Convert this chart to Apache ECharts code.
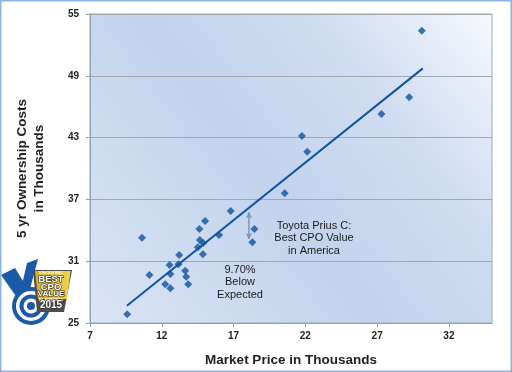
<!DOCTYPE html>
<html><head><meta charset="utf-8">
<script src="https://cdn.jsdelivr.net/npm/echarts@6/dist/echarts.min.js"></script>
<style>html,body{margin:0;padding:0;background:#fff}#c{width:512px;height:372px}</style>
</head><body><div id="c"></div>
<script>
// Market price (thousands) and 5-yr ownership cost (thousands)
const marketPrice = [9.59, 10.62, 11.14, 12.24, 12.6, 12.54, 12.6, 13.21, 13.16, 13.63, 13.7, 13.84, 14.51, 14.86, 14.62, 14.65, 14.88, 15.02, 15.99, 16.8, 18.45, 18.31, 20.56, 21.76, 22.13, 27.3, 29.23, 30.11];
const ownershipCost = [25.84, 33.28, 29.66, 28.76, 28.37, 30.63, 29.76, 31.6, 30.7, 30.08, 29.5, 28.76, 32.35, 31.67, 34.13, 33.06, 32.77, 34.9, 33.54, 35.87, 34.13, 32.83, 37.59, 43.16, 41.63, 45.29, 46.91, 53.38];
const trendX = [9.57, 30.18];
const trendY = [26.68, 49.72];
const arrowX = [18.07, 18.07];
const arrowY = [35.75, 33.15];
const xTicks = [7, 12, 17, 22, 27, 32];
const yTicks = [25, 31, 37, 43, 49, 55];

const chart = echarts.init(document.getElementById('c'), null, {renderer: 'canvas'});
const FONT = '"Liberation Sans", Arial, sans-serif';
const points = marketPrice.map((x, i) => [x, ownershipCost[i]]);
const trend = trendX.map((x, i) => [x, trendY[i]]);
const arrowData = arrowX.map((x, i) => ({value: [x, arrowY[i]], symbolRotate: i === 0 ? 0 : 180}));

const BLUE = '#1b5aa6';
const logo = [
  // checkmark
  {type: 'polygon', shape: {points: [[1, 275], [15, 268], [31, 294], [23, 306]]}, style: {fill: BLUE}},
  {type: 'polygon', shape: {points: [[27, 263], [38, 259], [26, 304], [18, 302]]}, style: {fill: BLUE}},
  // target rings
  {type: 'circle', shape: {cx: 31, cy: 306, r: 19}, style: {fill: BLUE}},
  {type: 'circle', shape: {cx: 31, cy: 306, r: 15}, style: {fill: '#ffffff'}},
  {type: 'circle', shape: {cx: 31, cy: 306, r: 11.5}, style: {fill: BLUE}},
  {type: 'circle', shape: {cx: 31, cy: 306, r: 7.5}, style: {fill: '#ffffff'}},
  {type: 'circle', shape: {cx: 31, cy: 306, r: 4}, style: {fill: BLUE}},
  // shield
  {type: 'polygon', shape: {points: [[33, 270], [72, 270], [64, 312], [37, 312]]}, style: {fill: '#4d4d4d'}},
  {type: 'polygon', shape: {points: [[35, 271], [70.5, 271], [67, 299], [38, 299]]},
    style: {fill: new echarts.graphic.LinearGradient(0, 0, 1, 0, [{offset: 0, color: '#d4a92c'}, {offset: 1, color: '#f3d24c'}])}},
  {type: 'text', x: 51, y: 273, style: {text: 'VINCENTRIC', font: 'bold 4px ' + FONT, fill: '#fff', align: 'center', verticalAlign: 'middle'}},
  {type: 'text', x: 51, y: 279.5, style: {text: 'BEST', font: 'bold 9.5px ' + FONT, fill: '#fff', stroke: '#333', lineWidth: 1.2, align: 'center', verticalAlign: 'middle'}},
  {type: 'text', x: 51, y: 287, style: {text: 'CPO', font: 'bold 9.5px ' + FONT, fill: '#fff', stroke: '#333', lineWidth: 1.2, align: 'center', verticalAlign: 'middle'}},
  {type: 'text', x: 51, y: 294, style: {text: 'VALUE', font: 'bold 8px ' + FONT, fill: '#fff', stroke: '#333', lineWidth: 1.2, align: 'center', verticalAlign: 'middle'}},
  {type: 'text', x: 51, y: 299.5, style: {text: 'IN AMERICA', font: 'bold 4px ' + FONT, fill: '#fff', align: 'center', verticalAlign: 'middle'}},
  {type: 'text', x: 51, y: 305.5, style: {text: '2015', font: 'bold 10px ' + FONT, fill: '#fff', stroke: '#333', lineWidth: 1.2, align: 'center', verticalAlign: 'middle'}}
];

const option = {
  animation: false,
  backgroundColor: '#ffffff',
  grid: {
    left: 90, right: 20, top: 14, bottom: 49,
    show: true,
    borderColor: '#9aa9c4', borderWidth: 1,
    backgroundColor: new echarts.graphic.LinearGradient(0, 1, 1, 0, [
      {offset: 0, color: '#dbe4f4'},
      {offset: 0.45, color: '#c3d3ed'},
      {offset: 0.72, color: '#d0dcf1'},
      {offset: 1, color: '#f7f9fd'}
    ])
  },
  xAxis: {
    type: 'value', min: 7, max: 35, interval: 5,
    axisLine: {show: true, lineStyle: {color: '#8f9db5', width: 1}},
    axisTick: {show: true, length: 4, lineStyle: {color: '#8f9db5'}, customValues: xTicks},
    axisLabel: {color: '#222', fontWeight: 'bold', fontSize: 10, fontFamily: FONT, margin: 8, customValues: xTicks},
    splitLine: {show: false},
    name: 'Market Price in Thousands', nameLocation: 'middle', nameGap: 30,
    nameTextStyle: {color: '#222', fontWeight: 'bold', fontSize: 13.5, fontFamily: FONT}
  },
  yAxis: {
    type: 'value', min: 25, max: 55, interval: 6,
    axisLine: {show: true, lineStyle: {color: '#8f9db5', width: 1}},
    axisTick: {show: true, length: 4, lineStyle: {color: '#9a9a9a'}},
    axisLabel: {color: '#222', fontWeight: 'bold', fontSize: 10, fontFamily: FONT, margin: 11},
    splitLine: {show: true, lineStyle: {color: '#a3a6ad', width: 1}},
    name: '5 yr Ownership Costs\nin Thousands', nameLocation: 'middle', nameGap: 42, nameRotate: 90,
    nameTextStyle: {color: '#222', fontWeight: 'bold', fontSize: 13.5, fontFamily: FONT, lineHeight: 17}
  },
  series: [
    {
      type: 'line', data: trend, symbol: 'none', silent: true,
      lineStyle: {color: '#0f56a3', width: 2}, z: 2
    },
    {
      type: 'line', data: arrowData, symbol: 'arrow',
      symbolSize: [5, 6], silent: true, showSymbol: true,
      lineStyle: {color: '#7f95b8', width: 1.5}, itemStyle: {color: '#7f95b8'}, z: 2
    },
    {
      type: 'scatter', data: points, symbol: 'diamond', symbolSize: 8,
      itemStyle: {color: '#0d52a0'}, z: 3
    }
  ],
  graphic: [
    {type: 'rect', shape: {x: 0.75, y: 0.75, width: 510.5, height: 370.5}, style: {fill: 'none', stroke: '#8db3e2', lineWidth: 1.5}, z: 100},
    {type: 'text', x: 314, y: 238, style: {text: 'Toyota Prius C:\nBest CPO Value\nin America', font: '11px ' + FONT, lineHeight: 12.5, fill: '#1a1a1a', align: 'center', verticalAlign: 'middle'}, z: 50},
    {type: 'text', x: 240, y: 282, style: {text: '9.70%\nBelow\nExpected', font: '11px ' + FONT, lineHeight: 12.5, fill: '#1a1a1a', align: 'center', verticalAlign: 'middle'}, z: 50},
    {type: 'group', children: logo, z: 60}
  ]
};
chart.setOption(option);
</script>
</body></html>
